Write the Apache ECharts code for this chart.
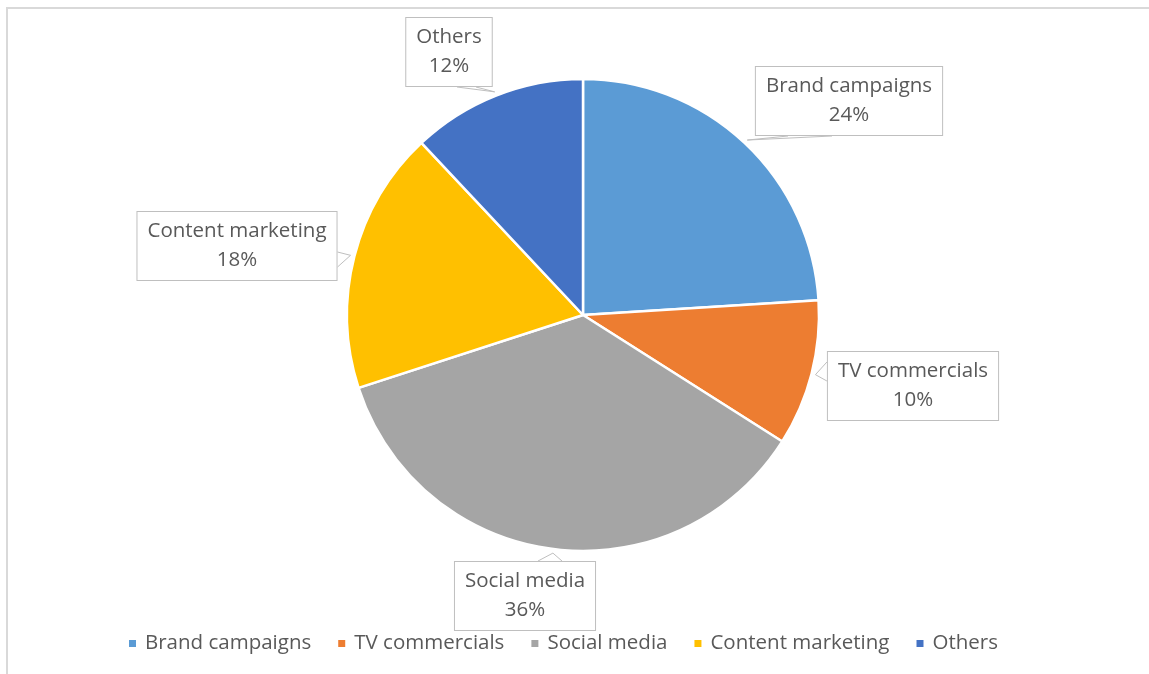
<!DOCTYPE html>
<html>
<head>
<meta charset="utf-8">
<script src="https://cdn.jsdelivr.net/npm/echarts@6/dist/echarts.min.js"></script>
<style>
  html, body { margin: 0; padding: 0; background: #ffffff; }
  #chart { width: 1149px; height: 674px; }
</style>
</head>
<body>
<div id="chart"></div>
<script>
// Marketing budget split
const categories = ['Brand campaigns', 'TV commercials', 'Social media', 'Content marketing', 'Others'];
const shares = [24, 10, 36, 18, 12];
const colors = ['#5B9BD5', '#ED7D31', '#A5A5A5', '#FFC000', '#4472C4'];

// Callout boxes: centre of each box, the box edge the pointer leaves from,
// and where the pointer base sits along that edge (offsets from the box centre).
const calloutCentres = [[849, 101], [913, 386], [525, 596], [237, 246], [449, 52]];
const calloutEdges = ['bottom', 'left', 'top', 'right', 'bottom'];
const calloutBase = [[-61, -17], [-24, -5], [13, 37], [6, 21], [8, 27]];

const FONT = '"Open Sans", sans-serif';
const TEXT = '#595959';
const CX = 583, CY = 315, R = 236;

const chart = echarts.init(document.getElementById('chart'), null, { renderer: 'canvas' });

chart.setOption({
  animation: false,
  backgroundColor: '#ffffff',
  color: colors,
  graphic: [{
    type: 'rect',
    shape: { x: 7, y: 8, width: 1160, height: 680 },
    style: { fill: 'none', stroke: '#d9d9d9', lineWidth: 2 },
    silent: true
  }],
  legend: {
    data: categories,
    left: 122,
    top: 628,
    icon: 'rect',
    itemWidth: 9,
    itemHeight: 9,
    itemGap: 25,
    textStyle: { color: TEXT, fontFamily: FONT, fontSize: 20.5, padding: [0, 0, 0, 3] }
  },
  series: [{
    type: 'pie',
    center: [CX, CY],
    radius: R,
    startAngle: 90,
    clockwise: true,
    avoidLabelOverlap: false,
    itemStyle: { borderColor: '#ffffff', borderWidth: 2.5 },
    label: {
      show: true,
      position: 'outside',
      formatter: p => p.name + '\n' + Math.round(p.percent) + '%',
      color: TEXT,
      fontFamily: FONT,
      fontSize: 20.5,
      lineHeight: 29,
      align: 'center',
      backgroundColor: '#ffffff',
      borderColor: '#bfbfbf',
      borderWidth: 1,
      padding: [5, 10, 5, 10]
    },
    labelLine: {
      show: true,
      length: 10,
      length2: 10,
      smooth: false,
      lineStyle: { color: '#bfbfbf', width: 1 }
    },
    labelLayout: function (params) {
      const i = params.dataIndex;
      const c = calloutCentres[i];
      const w = params.labelRect.width;
      const h = params.labelRect.height;
      const edge = calloutEdges[i];
      const b = calloutBase[i];
      let A, B;
      if (edge === 'bottom') { A = [c[0] + b[0], c[1] + h / 2]; B = [c[0] + b[1], c[1] + h / 2]; }
      else if (edge === 'top') { A = [c[0] + b[0], c[1] - h / 2]; B = [c[0] + b[1], c[1] - h / 2]; }
      else if (edge === 'left') { A = [c[0] - w / 2, c[1] + b[0]]; B = [c[0] - w / 2, c[1] + b[1]]; }
      else { A = [c[0] + w / 2, c[1] + b[0]]; B = [c[0] + w / 2, c[1] + b[1]]; }
      // pointer tip: just outside the slice at its mid angle
      const p0 = params.labelLinePoints ? params.labelLinePoints[0] : c;
      const dx = p0[0] - CX, dy = p0[1] - CY;
      const d = Math.sqrt(dx * dx + dy * dy) || 1;
      const tip = [CX + dx / d * (R + 4), CY + dy / d * (R + 4)];
      return {
        x: c[0],
        y: c[1],
        align: 'center',
        verticalAlign: 'middle',
        labelLinePoints: [A, tip, B]
      };
    },
    data: categories.map((name, i) => ({ name: name, value: shares[i] }))
  }]
});
</script>
</body>
</html>
